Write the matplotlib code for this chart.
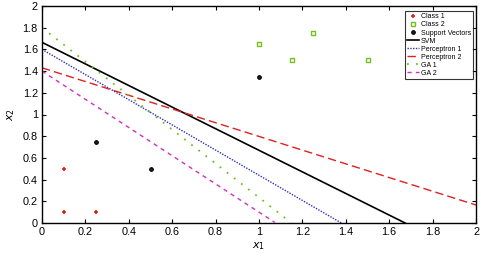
import numpy as np
import matplotlib
matplotlib.use("Agg")
import matplotlib.pyplot as plt

plt.rcParams['font.family'] = ['Liberation Sans', 'DejaVu Sans']

# Data points
class1_x = [0.1, 0.1, 0.25]
class1_y = [0.1, 0.5, 0.1]
class2_x = [1.0, 1.15, 1.25, 1.5]
class2_y = [1.65, 1.5, 1.75, 1.5]
sv_x = [0.25, 0.5, 1.0]
sv_y = [0.75, 0.5, 1.35]

# Decision boundaries: y = intercept + slope * x
line_names = ['SVM', 'Perceptron 1', 'Perceptron 2', 'GA 1', 'GA 2']
intercepts = [1.665, 1.60, 1.43, 1.80, 1.40]
slopes = [-0.995, -1.16, -0.632, -1.565, -1.30]

styles = [
    dict(color='black', lw=1.2, ls='-'),
    dict(color='#3030c0', lw=1.0, ls=(0, (1, 1))),
    dict(color='#e02020', lw=1.0, ls=(0, (6, 3))),
    dict(color='#70c020', lw=1.3, ls=(0, (1, 4))),
    dict(color='#d030c0', lw=1.0, ls=(0, (3, 3))),
]

fig = plt.figure(figsize=(4.8, 2.59), dpi=100)
ax = fig.add_axes([42/480, 1 - 223/259, 434/480, 217/259])

ax.plot(class1_x, class1_y, ls='none', marker='+', color='#e02020', ms=3, mew=1.2, label='Class 1')
ax.plot(class2_x, class2_y, ls='none', marker='s', mfc='none', mec='#70c020', ms=3.5, mew=1.0, label='Class 2')
ax.plot(sv_x, sv_y, ls='none', marker='o', mfc='#202020', mec='black', ms=2.6, mew=0.8, label='Support Vectors')

xs = np.linspace(0, 2, 400)
for name, b, m, st in zip(line_names, intercepts, slopes, styles):
    ys = b + m * xs
    mask = ys >= -0.001
    ax.plot(xs[mask], ys[mask], label=name, **st)

ax.set_xlim(0, 2)
ax.set_ylim(0, 2)
ax.set_xticks(np.arange(0, 2.01, 0.2))
ax.set_yticks(np.arange(0, 2.01, 0.2))
ax.set_xticklabels(['0', '0.2', '0.4', '0.6', '0.8', '1', '1.2', '1.4', '1.6', '1.8', '2'])
ax.set_yticklabels(['0', '0.2', '0.4', '0.6', '0.8', '1', '1.2', '1.4', '1.6', '1.8', '2'])
ax.tick_params(direction='in', top=True, right=True, labelsize=7.8, length=3, width=0.8, pad=3)
for s in ax.spines.values():
    s.set_linewidth(1.0)
ax.set_xlabel('$x_1$', fontsize=8, labelpad=2)
ax.set_ylabel('$x_2$', fontsize=8, labelpad=4)

leg = ax.legend(loc='upper right', fontsize=5, frameon=True, fancybox=False,
                edgecolor='black', handlelength=1.7, handletextpad=0.3,
                labelspacing=0.15, borderpad=0.3, borderaxespad=0.3,
                bbox_to_anchor=(0.9985, 0.985))
leg.get_frame().set_linewidth(0.8)

fig.savefig('out.png', dpi=100)
